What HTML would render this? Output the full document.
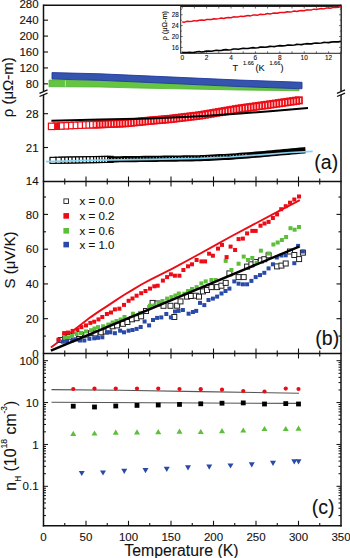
<!DOCTYPE html>
<html><head><meta charset="utf-8"><style>
html,body{margin:0;padding:0;background:#fff;overflow:hidden;width:350px;height:558px;}
svg{display:block;}
text{font-family:"Liberation Sans",sans-serif;fill:#111;stroke:#111;stroke-width:0.1px;}
</style></head><body>
<svg width="350" height="558" viewBox="0 0 350 558" font-family="Liberation Sans, sans-serif">
<rect width="350" height="558" fill="#fff"/>
<polygon points="49.00,80.10 100.00,80.40 140.00,81.50 240.00,83.40 299.00,84.10 299.00,90.70 240.00,90.00 140.00,88.10 100.00,87.00 49.00,86.70" fill="#66c443" stroke="#4fb52f" stroke-width="0.8"/>
<line x1="65.40" y1="80.50" x2="65.40" y2="86.50" stroke="#c8ecc0" stroke-width="0.8" />
<polygon points="52.00,72.60 100.00,73.80 140.00,75.60 240.00,80.10 302.00,82.30 302.00,88.80 240.00,86.60 140.00,82.10 100.00,80.30 52.00,79.10" fill="#3454ae" stroke="#22399c" stroke-width="0.9"/>
<rect x="295.60" y="97.17" width="6.4" height="6.4" fill="#ffd2d2" stroke="#ec0c16" stroke-width="1.7"/>
<rect x="292.75" y="97.58" width="6.4" height="6.4" fill="#ffd2d2" stroke="#ec0c16" stroke-width="1.7"/>
<rect x="289.90" y="97.99" width="6.4" height="6.4" fill="#ffd2d2" stroke="#ec0c16" stroke-width="1.7"/>
<rect x="287.05" y="98.40" width="6.4" height="6.4" fill="#ffd2d2" stroke="#ec0c16" stroke-width="1.7"/>
<rect x="284.20" y="98.81" width="6.4" height="6.4" fill="#ffd2d2" stroke="#ec0c16" stroke-width="1.7"/>
<rect x="281.35" y="99.21" width="6.4" height="6.4" fill="#ffd2d2" stroke="#ec0c16" stroke-width="1.7"/>
<rect x="278.50" y="99.62" width="6.4" height="6.4" fill="#ffd2d2" stroke="#ec0c16" stroke-width="1.7"/>
<rect x="275.65" y="100.03" width="6.4" height="6.4" fill="#ffd2d2" stroke="#ec0c16" stroke-width="1.7"/>
<rect x="272.80" y="100.44" width="6.4" height="6.4" fill="#ffd2d2" stroke="#ec0c16" stroke-width="1.7"/>
<rect x="269.95" y="100.85" width="6.4" height="6.4" fill="#ffd2d2" stroke="#ec0c16" stroke-width="1.7"/>
<rect x="267.10" y="101.26" width="6.4" height="6.4" fill="#ffd2d2" stroke="#ec0c16" stroke-width="1.7"/>
<rect x="264.25" y="101.65" width="6.4" height="6.4" fill="#ffd2d2" stroke="#ec0c16" stroke-width="1.7"/>
<rect x="261.40" y="102.04" width="6.4" height="6.4" fill="#ffd2d2" stroke="#ec0c16" stroke-width="1.7"/>
<rect x="258.55" y="102.43" width="6.4" height="6.4" fill="#ffd2d2" stroke="#ec0c16" stroke-width="1.7"/>
<rect x="255.70" y="102.82" width="6.4" height="6.4" fill="#ffd2d2" stroke="#ec0c16" stroke-width="1.7"/>
<rect x="252.85" y="103.21" width="6.4" height="6.4" fill="#ffd2d2" stroke="#ec0c16" stroke-width="1.7"/>
<rect x="250.00" y="103.60" width="6.4" height="6.4" fill="#ffd2d2" stroke="#ec0c16" stroke-width="1.7"/>
<rect x="247.15" y="103.99" width="6.4" height="6.4" fill="#ffd2d2" stroke="#ec0c16" stroke-width="1.7"/>
<rect x="244.30" y="104.38" width="6.4" height="6.4" fill="#ffd2d2" stroke="#ec0c16" stroke-width="1.7"/>
<rect x="241.45" y="104.76" width="6.4" height="6.4" fill="#ffd2d2" stroke="#ec0c16" stroke-width="1.7"/>
<rect x="238.60" y="105.15" width="6.4" height="6.4" fill="#ffd2d2" stroke="#ec0c16" stroke-width="1.7"/>
<rect x="235.75" y="105.58" width="6.4" height="6.4" fill="#ffd2d2" stroke="#ec0c16" stroke-width="1.7"/>
<rect x="232.90" y="106.06" width="6.4" height="6.4" fill="#ffd2d2" stroke="#ec0c16" stroke-width="1.7"/>
<rect x="230.05" y="106.55" width="6.4" height="6.4" fill="#ffd2d2" stroke="#ec0c16" stroke-width="1.7"/>
<rect x="227.20" y="107.03" width="6.4" height="6.4" fill="#ffd2d2" stroke="#ec0c16" stroke-width="1.7"/>
<rect x="224.35" y="107.52" width="6.4" height="6.4" fill="#ffd2d2" stroke="#ec0c16" stroke-width="1.7"/>
<rect x="221.50" y="108.00" width="6.4" height="6.4" fill="#ffd2d2" stroke="#ec0c16" stroke-width="1.7"/>
<rect x="218.65" y="108.49" width="6.4" height="6.4" fill="#ffd2d2" stroke="#ec0c16" stroke-width="1.7"/>
<rect x="215.80" y="108.97" width="6.4" height="6.4" fill="#ffd2d2" stroke="#ec0c16" stroke-width="1.7"/>
<rect x="212.95" y="109.45" width="6.4" height="6.4" fill="#ffd2d2" stroke="#ec0c16" stroke-width="1.7"/>
<rect x="210.10" y="109.94" width="6.4" height="6.4" fill="#ffd2d2" stroke="#ec0c16" stroke-width="1.7"/>
<rect x="207.25" y="110.42" width="6.4" height="6.4" fill="#ffd2d2" stroke="#ec0c16" stroke-width="1.7"/>
<rect x="204.40" y="110.91" width="6.4" height="6.4" fill="#ffd2d2" stroke="#ec0c16" stroke-width="1.7"/>
<rect x="201.55" y="111.39" width="6.4" height="6.4" fill="#ffd2d2" stroke="#ec0c16" stroke-width="1.7"/>
<rect x="198.70" y="111.88" width="6.4" height="6.4" fill="#ffd2d2" stroke="#ec0c16" stroke-width="1.7"/>
<rect x="195.85" y="112.31" width="6.4" height="6.4" fill="#ffd2d2" stroke="#ec0c16" stroke-width="1.7"/>
<rect x="193.00" y="112.66" width="6.4" height="6.4" fill="#ffd2d2" stroke="#ec0c16" stroke-width="1.7"/>
<rect x="190.15" y="113.00" width="6.4" height="6.4" fill="#ffd2d2" stroke="#ec0c16" stroke-width="1.7"/>
<rect x="187.30" y="113.34" width="6.4" height="6.4" fill="#ffd2d2" stroke="#ec0c16" stroke-width="1.7"/>
<rect x="184.45" y="113.68" width="6.4" height="6.4" fill="#ffd2d2" stroke="#ec0c16" stroke-width="1.7"/>
<rect x="181.60" y="114.02" width="6.4" height="6.4" fill="#ffd2d2" stroke="#ec0c16" stroke-width="1.7"/>
<rect x="178.75" y="114.37" width="6.4" height="6.4" fill="#ffd2d2" stroke="#ec0c16" stroke-width="1.7"/>
<rect x="175.90" y="114.71" width="6.4" height="6.4" fill="#ffd2d2" stroke="#ec0c16" stroke-width="1.7"/>
<rect x="173.05" y="115.05" width="6.4" height="6.4" fill="#ffd2d2" stroke="#ec0c16" stroke-width="1.7"/>
<rect x="170.20" y="115.39" width="6.4" height="6.4" fill="#ffd2d2" stroke="#ec0c16" stroke-width="1.7"/>
<rect x="167.35" y="115.73" width="6.4" height="6.4" fill="#ffd2d2" stroke="#ec0c16" stroke-width="1.7"/>
<rect x="164.50" y="116.00" width="6.4" height="6.4" fill="#ffd2d2" stroke="#ec0c16" stroke-width="1.7"/>
<rect x="161.65" y="116.24" width="6.4" height="6.4" fill="#ffd2d2" stroke="#ec0c16" stroke-width="1.7"/>
<rect x="158.80" y="116.48" width="6.4" height="6.4" fill="#ffd2d2" stroke="#ec0c16" stroke-width="1.7"/>
<rect x="155.95" y="116.72" width="6.4" height="6.4" fill="#ffd2d2" stroke="#ec0c16" stroke-width="1.7"/>
<rect x="153.10" y="116.96" width="6.4" height="6.4" fill="#ffd2d2" stroke="#ec0c16" stroke-width="1.7"/>
<rect x="150.25" y="117.21" width="6.4" height="6.4" fill="#ffd2d2" stroke="#ec0c16" stroke-width="1.7"/>
<rect x="147.40" y="117.45" width="6.4" height="6.4" fill="#ffd2d2" stroke="#ec0c16" stroke-width="1.7"/>
<rect x="144.55" y="117.73" width="6.4" height="6.4" fill="#ffd2d2" stroke="#ec0c16" stroke-width="1.7"/>
<rect x="141.70" y="118.01" width="6.4" height="6.4" fill="#ffd2d2" stroke="#ec0c16" stroke-width="1.7"/>
<rect x="138.85" y="118.30" width="6.4" height="6.4" fill="#ffd2d2" stroke="#ec0c16" stroke-width="1.7"/>
<rect x="136.00" y="118.58" width="6.4" height="6.4" fill="#ffd2d2" stroke="#ec0c16" stroke-width="1.7"/>
<rect x="133.15" y="118.87" width="6.4" height="6.4" fill="#ffd2d2" stroke="#ec0c16" stroke-width="1.7"/>
<rect x="130.30" y="119.15" width="6.4" height="6.4" fill="#ffd2d2" stroke="#ec0c16" stroke-width="1.7"/>
<rect x="127.45" y="119.44" width="6.4" height="6.4" fill="#ffd2d2" stroke="#ec0c16" stroke-width="1.7"/>
<rect x="124.60" y="119.72" width="6.4" height="6.4" fill="#ffd2d2" stroke="#ec0c16" stroke-width="1.7"/>
<rect x="121.75" y="120.00" width="6.4" height="6.4" fill="#ffd2d2" stroke="#ec0c16" stroke-width="1.7"/>
<rect x="118.90" y="120.12" width="6.4" height="6.4" fill="#ffd2d2" stroke="#ec0c16" stroke-width="1.7"/>
<rect x="116.05" y="120.24" width="6.4" height="6.4" fill="#ffd2d2" stroke="#ec0c16" stroke-width="1.7"/>
<rect x="113.20" y="120.37" width="6.4" height="6.4" fill="#ffd2d2" stroke="#ec0c16" stroke-width="1.7"/>
<rect x="110.35" y="120.49" width="6.4" height="6.4" fill="#ffd2d2" stroke="#ec0c16" stroke-width="1.7"/>
<rect x="107.50" y="120.61" width="6.4" height="6.4" fill="#ffd2d2" stroke="#ec0c16" stroke-width="1.7"/>
<rect x="104.65" y="120.73" width="6.4" height="6.4" fill="#ffd2d2" stroke="#ec0c16" stroke-width="1.7"/>
<rect x="101.80" y="120.85" width="6.4" height="6.4" fill="#ffd2d2" stroke="#ec0c16" stroke-width="1.7"/>
<rect x="98.95" y="120.97" width="6.4" height="6.4" fill="#ffd2d2" stroke="#ec0c16" stroke-width="1.7"/>
<rect x="96.10" y="121.09" width="6.4" height="6.4" fill="#ffd2d2" stroke="#ec0c16" stroke-width="1.7"/>
<rect x="93.25" y="121.21" width="6.4" height="6.4" fill="#ffd2d2" stroke="#ec0c16" stroke-width="1.7"/>
<rect x="90.40" y="121.33" width="6.4" height="6.4" fill="#ffd2d2" stroke="#ec0c16" stroke-width="1.7"/>
<rect x="86.80" y="121.49" width="6.4" height="6.4" fill="#fff" stroke="#ec0c16" stroke-width="1.2"/>
<rect x="83.20" y="121.64" width="6.4" height="6.4" fill="#fff" stroke="#ec0c16" stroke-width="1.2"/>
<rect x="79.60" y="121.80" width="6.4" height="6.4" fill="#fff" stroke="#ec0c16" stroke-width="1.2"/>
<rect x="76.00" y="121.96" width="6.4" height="6.4" fill="#fff" stroke="#ec0c16" stroke-width="1.2"/>
<rect x="71.40" y="122.16" width="6.4" height="6.4" fill="#fff" stroke="#ec0c16" stroke-width="1.2"/>
<rect x="66.80" y="122.36" width="6.4" height="6.4" fill="#fff" stroke="#ec0c16" stroke-width="1.2"/>
<rect x="62.20" y="122.56" width="6.4" height="6.4" fill="#fff" stroke="#ec0c16" stroke-width="1.2"/>
<rect x="57.60" y="122.77" width="6.4" height="6.4" fill="#fff" stroke="#ec0c16" stroke-width="1.2"/>
<rect x="53.00" y="122.97" width="6.4" height="6.4" fill="#fff" stroke="#ec0c16" stroke-width="1.2"/>
<rect x="48.40" y="123.17" width="6.4" height="6.4" fill="#fff" stroke="#ec0c16" stroke-width="1.2"/>
<rect x="54.4" y="122.78" width="4.6" height="6.8" fill="#ec0c16"/>
<polyline points="51.40,120.80 100.00,119.60 150.00,118.40 200.00,116.20 240.00,113.60 270.00,111.20 308.00,108.00" fill="none" stroke="#000" stroke-width="2.0" stroke-linejoin="round" />
<rect x="107.20" y="156.38" width="6.0" height="6.0" fill="#fff" stroke="#000" stroke-width="1.15"/>
<rect x="104.40" y="156.41" width="6.0" height="6.0" fill="#fff" stroke="#000" stroke-width="1.15"/>
<rect x="101.60" y="156.44" width="6.0" height="6.0" fill="#fff" stroke="#000" stroke-width="1.15"/>
<rect x="98.80" y="156.48" width="6.0" height="6.0" fill="#fff" stroke="#000" stroke-width="1.15"/>
<rect x="96.00" y="156.52" width="6.0" height="6.0" fill="#fff" stroke="#000" stroke-width="1.15"/>
<rect x="93.20" y="156.57" width="6.0" height="6.0" fill="#fff" stroke="#000" stroke-width="1.15"/>
<rect x="90.40" y="156.62" width="6.0" height="6.0" fill="#fff" stroke="#000" stroke-width="1.15"/>
<rect x="87.60" y="156.67" width="6.0" height="6.0" fill="#fff" stroke="#000" stroke-width="1.15"/>
<rect x="84.00" y="156.73" width="6.0" height="6.0" fill="#fff" stroke="#000" stroke-width="1.15"/>
<rect x="80.40" y="156.80" width="6.0" height="6.0" fill="#fff" stroke="#000" stroke-width="1.15"/>
<rect x="76.80" y="156.86" width="6.0" height="6.0" fill="#fff" stroke="#000" stroke-width="1.15"/>
<rect x="73.20" y="156.93" width="6.0" height="6.0" fill="#fff" stroke="#000" stroke-width="1.15"/>
<rect x="69.60" y="156.99" width="6.0" height="6.0" fill="#fff" stroke="#000" stroke-width="1.15"/>
<rect x="66.00" y="157.06" width="6.0" height="6.0" fill="#fff" stroke="#000" stroke-width="1.15"/>
<rect x="62.40" y="157.12" width="6.0" height="6.0" fill="#fff" stroke="#000" stroke-width="1.15"/>
<rect x="58.80" y="157.19" width="6.0" height="6.0" fill="#fff" stroke="#000" stroke-width="1.15"/>
<rect x="55.20" y="157.25" width="6.0" height="6.0" fill="#fff" stroke="#000" stroke-width="1.15"/>
<rect x="50.00" y="157.35" width="6.0" height="6.0" fill="#fff" stroke="#000" stroke-width="1.15"/>
<polyline points="108.00,159.40 112.00,159.36 116.00,159.31 120.00,159.26 124.00,159.21 128.00,159.16 132.00,159.12 136.00,159.07 140.00,159.02 144.00,158.97 148.00,158.92 152.00,158.87 156.00,158.82 160.00,158.76 164.00,158.70 168.00,158.65 172.00,158.59 176.00,158.54 180.00,158.48 184.00,158.42 188.00,158.37 192.00,158.31 196.00,158.26 200.00,158.20 204.00,158.00 208.00,157.80 212.00,157.60 216.00,157.40 220.00,157.20 224.00,157.00 228.00,156.80 232.00,156.55 236.00,156.24 240.00,155.93 244.00,155.63 248.00,155.32 252.00,155.01 256.00,154.71 260.00,154.40 264.00,154.03 268.00,153.65 272.00,153.28 276.00,152.91 280.00,152.53 284.00,152.16 288.00,151.79 292.00,151.42 296.00,151.06 300.00,150.70 304.00,150.34 305.50,150.20" fill="none" stroke="#000" stroke-width="6.2" stroke-linejoin="round" stroke-linecap="butt"/>
<polyline points="108.00,158.76 112.00,158.68 116.00,158.61 120.00,158.54 124.00,158.47 128.00,158.40 132.00,158.32 136.00,158.25 140.00,158.18 144.00,158.11 148.00,158.04 152.00,157.96 156.00,157.89 160.00,157.82 164.00,157.75 168.00,157.68 172.00,157.60 176.00,157.53 180.00,157.46 184.00,157.39 188.00,157.32 192.00,157.24 196.00,157.17 200.00,157.10 204.00,156.91 208.00,156.73 212.00,156.54 216.00,156.35 220.00,156.17 224.00,155.98 228.00,155.79 232.00,155.55 236.00,155.26 240.00,154.97 244.00,154.67 248.00,154.38" fill="none" stroke="#fff" stroke-width="0.8" stroke-linejoin="round" stroke-dasharray="1 2.2"/>
<polyline points="46.00,161.60 100.00,160.20 150.00,159.30 200.00,158.40 230.00,157.00 260.00,154.80 290.00,152.50 312.70,151.40" fill="none" stroke="#88d4ee" stroke-width="1.7" stroke-linejoin="round" />
<polyline points="50.90,347.40 62.30,338.90 76.60,327.90 90.00,317.60 98.60,311.60 107.10,306.10 115.70,300.40 124.30,294.80 132.90,289.60 141.40,284.50 150.00,279.90 172.90,268.40 195.70,256.00 218.60,243.40 230.00,237.00 250.00,226.30 275.00,213.20 299.80,200.10" fill="none" stroke="#ec0c16" stroke-width="1.9" stroke-linejoin="round" />
<rect x="58.50" y="337.50" width="5.0" height="5.0" fill="#fff" stroke="#222" stroke-width="1.0"/>
<rect x="62.50" y="336.00" width="5.0" height="5.0" fill="#fff" stroke="#222" stroke-width="1.0"/>
<rect x="66.60" y="334.40" width="5.0" height="5.0" fill="#fff" stroke="#222" stroke-width="1.0"/>
<rect x="71.50" y="333.20" width="5.0" height="5.0" fill="#fff" stroke="#222" stroke-width="1.0"/>
<rect x="77.50" y="331.50" width="5.0" height="5.0" fill="#fff" stroke="#222" stroke-width="1.0"/>
<rect x="83.80" y="332.10" width="5.0" height="5.0" fill="#fff" stroke="#222" stroke-width="1.0"/>
<rect x="88.60" y="330.60" width="5.0" height="5.0" fill="#fff" stroke="#222" stroke-width="1.0"/>
<rect x="92.90" y="330.90" width="5.0" height="5.0" fill="#fff" stroke="#222" stroke-width="1.0"/>
<rect x="98.70" y="329.80" width="5.0" height="5.0" fill="#fff" stroke="#222" stroke-width="1.0"/>
<rect x="103.20" y="329.00" width="5.0" height="5.0" fill="#fff" stroke="#222" stroke-width="1.0"/>
<rect x="106.00" y="326.30" width="5.0" height="5.0" fill="#fff" stroke="#222" stroke-width="1.0"/>
<rect x="110.10" y="323.80" width="5.0" height="5.0" fill="#fff" stroke="#222" stroke-width="1.0"/>
<rect x="114.60" y="322.90" width="5.0" height="5.0" fill="#fff" stroke="#222" stroke-width="1.0"/>
<rect x="120.40" y="321.30" width="5.0" height="5.0" fill="#fff" stroke="#222" stroke-width="1.0"/>
<rect x="124.90" y="319.50" width="5.0" height="5.0" fill="#fff" stroke="#222" stroke-width="1.0"/>
<rect x="129.50" y="316.80" width="5.0" height="5.0" fill="#fff" stroke="#222" stroke-width="1.0"/>
<rect x="134.10" y="315.70" width="5.0" height="5.0" fill="#fff" stroke="#222" stroke-width="1.0"/>
<rect x="138.60" y="313.80" width="5.0" height="5.0" fill="#fff" stroke="#222" stroke-width="1.0"/>
<rect x="143.50" y="308.50" width="5.0" height="5.0" fill="#fff" stroke="#222" stroke-width="1.0"/>
<rect x="150.10" y="300.40" width="5.0" height="5.0" fill="#fff" stroke="#222" stroke-width="1.0"/>
<rect x="155.00" y="301.00" width="5.0" height="5.0" fill="#fff" stroke="#222" stroke-width="1.0"/>
<rect x="161.00" y="303.30" width="5.0" height="5.0" fill="#fff" stroke="#222" stroke-width="1.0"/>
<rect x="168.00" y="303.30" width="5.0" height="5.0" fill="#fff" stroke="#222" stroke-width="1.0"/>
<rect x="171.80" y="314.50" width="5.0" height="5.0" fill="#fff" stroke="#222" stroke-width="1.0"/>
<rect x="174.60" y="303.20" width="5.0" height="5.0" fill="#fff" stroke="#222" stroke-width="1.0"/>
<rect x="178.00" y="298.90" width="5.0" height="5.0" fill="#fff" stroke="#222" stroke-width="1.0"/>
<rect x="184.60" y="294.10" width="5.0" height="5.0" fill="#fff" stroke="#222" stroke-width="1.0"/>
<rect x="188.50" y="293.50" width="5.0" height="5.0" fill="#fff" stroke="#222" stroke-width="1.0"/>
<rect x="193.20" y="293.20" width="5.0" height="5.0" fill="#fff" stroke="#222" stroke-width="1.0"/>
<rect x="196.50" y="294.10" width="5.0" height="5.0" fill="#fff" stroke="#222" stroke-width="1.0"/>
<rect x="200.40" y="288.90" width="5.0" height="5.0" fill="#fff" stroke="#222" stroke-width="1.0"/>
<rect x="204.50" y="287.50" width="5.0" height="5.0" fill="#fff" stroke="#222" stroke-width="1.0"/>
<rect x="208.90" y="284.60" width="5.0" height="5.0" fill="#fff" stroke="#222" stroke-width="1.0"/>
<rect x="214.60" y="284.60" width="5.0" height="5.0" fill="#fff" stroke="#222" stroke-width="1.0"/>
<rect x="218.90" y="283.20" width="5.0" height="5.0" fill="#fff" stroke="#222" stroke-width="1.0"/>
<rect x="223.20" y="280.40" width="5.0" height="5.0" fill="#fff" stroke="#222" stroke-width="1.0"/>
<rect x="226.90" y="270.90" width="5.0" height="5.0" fill="#fff" stroke="#222" stroke-width="1.0"/>
<rect x="236.10" y="274.60" width="5.0" height="5.0" fill="#fff" stroke="#222" stroke-width="1.0"/>
<rect x="241.20" y="274.60" width="5.0" height="5.0" fill="#fff" stroke="#222" stroke-width="1.0"/>
<rect x="244.60" y="264.10" width="5.0" height="5.0" fill="#fff" stroke="#222" stroke-width="1.0"/>
<rect x="248.90" y="261.80" width="5.0" height="5.0" fill="#fff" stroke="#222" stroke-width="1.0"/>
<rect x="253.00" y="259.50" width="5.0" height="5.0" fill="#fff" stroke="#222" stroke-width="1.0"/>
<rect x="258.40" y="257.90" width="5.0" height="5.0" fill="#fff" stroke="#222" stroke-width="1.0"/>
<rect x="261.80" y="256.70" width="5.0" height="5.0" fill="#fff" stroke="#222" stroke-width="1.0"/>
<rect x="266.10" y="252.80" width="5.0" height="5.0" fill="#fff" stroke="#222" stroke-width="1.0"/>
<rect x="274.60" y="263.90" width="5.0" height="5.0" fill="#fff" stroke="#222" stroke-width="1.0"/>
<rect x="278.90" y="263.10" width="5.0" height="5.0" fill="#fff" stroke="#222" stroke-width="1.0"/>
<rect x="283.20" y="261.00" width="5.0" height="5.0" fill="#fff" stroke="#222" stroke-width="1.0"/>
<rect x="287.50" y="249.00" width="5.0" height="5.0" fill="#fff" stroke="#222" stroke-width="1.0"/>
<rect x="291.80" y="252.50" width="5.0" height="5.0" fill="#fff" stroke="#222" stroke-width="1.0"/>
<rect x="296.60" y="256.60" width="5.0" height="5.0" fill="#fff" stroke="#222" stroke-width="1.0"/>
<rect x="300.40" y="250.20" width="5.0" height="5.0" fill="#fff" stroke="#222" stroke-width="1.0"/>
<rect x="62.60" y="336.30" width="4.0" height="4.0" fill="#5cbf3a"/>
<rect x="66.00" y="335.40" width="4.0" height="4.0" fill="#5cbf3a"/>
<rect x="70.00" y="334.00" width="4.0" height="4.0" fill="#5cbf3a"/>
<rect x="74.60" y="332.00" width="4.0" height="4.0" fill="#5cbf3a"/>
<rect x="79.00" y="331.00" width="4.0" height="4.0" fill="#5cbf3a"/>
<rect x="84.00" y="329.40" width="4.0" height="4.0" fill="#5cbf3a"/>
<rect x="89.10" y="328.20" width="4.0" height="4.0" fill="#5cbf3a"/>
<rect x="92.50" y="326.50" width="4.0" height="4.0" fill="#5cbf3a"/>
<rect x="96.00" y="325.10" width="4.0" height="4.0" fill="#5cbf3a"/>
<rect x="101.10" y="324.30" width="4.0" height="4.0" fill="#5cbf3a"/>
<rect x="106.30" y="322.60" width="4.0" height="4.0" fill="#5cbf3a"/>
<rect x="110.60" y="320.50" width="4.0" height="4.0" fill="#5cbf3a"/>
<rect x="114.50" y="319.00" width="4.0" height="4.0" fill="#5cbf3a"/>
<rect x="118.60" y="317.50" width="4.0" height="4.0" fill="#5cbf3a"/>
<rect x="122.50" y="315.00" width="4.0" height="4.0" fill="#5cbf3a"/>
<rect x="130.90" y="311.70" width="4.0" height="4.0" fill="#5cbf3a"/>
<rect x="138.00" y="310.90" width="4.0" height="4.0" fill="#5cbf3a"/>
<rect x="147.10" y="305.10" width="4.0" height="4.0" fill="#5cbf3a"/>
<rect x="148.00" y="303.70" width="4.0" height="4.0" fill="#5cbf3a"/>
<rect x="152.30" y="303.50" width="4.0" height="4.0" fill="#5cbf3a"/>
<rect x="156.50" y="301.00" width="4.0" height="4.0" fill="#5cbf3a"/>
<rect x="160.50" y="299.00" width="4.0" height="4.0" fill="#5cbf3a"/>
<rect x="165.10" y="296.60" width="4.0" height="4.0" fill="#5cbf3a"/>
<rect x="169.40" y="295.10" width="4.0" height="4.0" fill="#5cbf3a"/>
<rect x="173.40" y="293.50" width="4.0" height="4.0" fill="#5cbf3a"/>
<rect x="176.80" y="291.50" width="4.0" height="4.0" fill="#5cbf3a"/>
<rect x="182.30" y="291.70" width="4.0" height="4.0" fill="#5cbf3a"/>
<rect x="186.00" y="289.00" width="4.0" height="4.0" fill="#5cbf3a"/>
<rect x="190.00" y="287.00" width="4.0" height="4.0" fill="#5cbf3a"/>
<rect x="194.60" y="285.10" width="4.0" height="4.0" fill="#5cbf3a"/>
<rect x="199.40" y="281.40" width="4.0" height="4.0" fill="#5cbf3a"/>
<rect x="203.70" y="279.40" width="4.0" height="4.0" fill="#5cbf3a"/>
<rect x="209.40" y="278.00" width="4.0" height="4.0" fill="#5cbf3a"/>
<rect x="213.70" y="278.00" width="4.0" height="4.0" fill="#5cbf3a"/>
<rect x="223.70" y="258.90" width="4.0" height="4.0" fill="#5cbf3a"/>
<rect x="229.40" y="268.00" width="4.0" height="4.0" fill="#5cbf3a"/>
<rect x="236.60" y="261.70" width="4.0" height="4.0" fill="#5cbf3a"/>
<rect x="241.70" y="254.60" width="4.0" height="4.0" fill="#5cbf3a"/>
<rect x="246.00" y="258.00" width="4.0" height="4.0" fill="#5cbf3a"/>
<rect x="250.30" y="256.00" width="4.0" height="4.0" fill="#5cbf3a"/>
<rect x="254.60" y="260.90" width="4.0" height="4.0" fill="#5cbf3a"/>
<rect x="258.90" y="248.70" width="4.0" height="4.0" fill="#5cbf3a"/>
<rect x="266.60" y="251.50" width="4.0" height="4.0" fill="#5cbf3a"/>
<rect x="271.40" y="242.50" width="4.0" height="4.0" fill="#5cbf3a"/>
<rect x="275.70" y="240.50" width="4.0" height="4.0" fill="#5cbf3a"/>
<rect x="279.90" y="238.00" width="4.0" height="4.0" fill="#5cbf3a"/>
<rect x="284.10" y="235.00" width="4.0" height="4.0" fill="#5cbf3a"/>
<rect x="288.50" y="226.20" width="4.0" height="4.0" fill="#5cbf3a"/>
<rect x="292.60" y="227.70" width="4.0" height="4.0" fill="#5cbf3a"/>
<rect x="297.00" y="225.00" width="4.0" height="4.0" fill="#5cbf3a"/>
<rect x="56.60" y="338.50" width="4.0" height="4.0" fill="#2a4aa8"/>
<rect x="60.90" y="339.70" width="4.0" height="4.0" fill="#2a4aa8"/>
<rect x="65.10" y="339.20" width="4.0" height="4.0" fill="#2a4aa8"/>
<rect x="70.30" y="338.50" width="4.0" height="4.0" fill="#2a4aa8"/>
<rect x="74.00" y="337.50" width="4.0" height="4.0" fill="#2a4aa8"/>
<rect x="78.00" y="338.50" width="4.0" height="4.0" fill="#2a4aa8"/>
<rect x="82.30" y="338.50" width="4.0" height="4.0" fill="#2a4aa8"/>
<rect x="87.40" y="336.80" width="4.0" height="4.0" fill="#2a4aa8"/>
<rect x="92.20" y="336.30" width="4.0" height="4.0" fill="#2a4aa8"/>
<rect x="96.00" y="335.80" width="4.0" height="4.0" fill="#2a4aa8"/>
<rect x="100.30" y="335.30" width="4.0" height="4.0" fill="#2a4aa8"/>
<rect x="104.90" y="330.30" width="4.0" height="4.0" fill="#2a4aa8"/>
<rect x="108.30" y="330.30" width="4.0" height="4.0" fill="#2a4aa8"/>
<rect x="112.90" y="331.20" width="4.0" height="4.0" fill="#2a4aa8"/>
<rect x="118.10" y="328.70" width="4.0" height="4.0" fill="#2a4aa8"/>
<rect x="122.00" y="330.30" width="4.0" height="4.0" fill="#2a4aa8"/>
<rect x="126.60" y="328.70" width="4.0" height="4.0" fill="#2a4aa8"/>
<rect x="130.50" y="328.00" width="4.0" height="4.0" fill="#2a4aa8"/>
<rect x="134.60" y="326.90" width="4.0" height="4.0" fill="#2a4aa8"/>
<rect x="138.70" y="325.00" width="4.0" height="4.0" fill="#2a4aa8"/>
<rect x="142.60" y="319.50" width="4.0" height="4.0" fill="#2a4aa8"/>
<rect x="147.10" y="323.40" width="4.0" height="4.0" fill="#2a4aa8"/>
<rect x="151.00" y="318.00" width="4.0" height="4.0" fill="#2a4aa8"/>
<rect x="155.10" y="315.90" width="4.0" height="4.0" fill="#2a4aa8"/>
<rect x="159.30" y="315.40" width="4.0" height="4.0" fill="#2a4aa8"/>
<rect x="164.30" y="312.00" width="4.0" height="4.0" fill="#2a4aa8"/>
<rect x="168.90" y="315.40" width="4.0" height="4.0" fill="#2a4aa8"/>
<rect x="173.00" y="309.50" width="4.0" height="4.0" fill="#2a4aa8"/>
<rect x="176.60" y="308.90" width="4.0" height="4.0" fill="#2a4aa8"/>
<rect x="180.90" y="308.00" width="4.0" height="4.0" fill="#2a4aa8"/>
<rect x="186.60" y="311.70" width="4.0" height="4.0" fill="#2a4aa8"/>
<rect x="190.90" y="310.00" width="4.0" height="4.0" fill="#2a4aa8"/>
<rect x="194.20" y="308.90" width="4.0" height="4.0" fill="#2a4aa8"/>
<rect x="198.00" y="300.90" width="4.0" height="4.0" fill="#2a4aa8"/>
<rect x="202.30" y="303.10" width="4.0" height="4.0" fill="#2a4aa8"/>
<rect x="206.50" y="298.00" width="4.0" height="4.0" fill="#2a4aa8"/>
<rect x="210.90" y="296.60" width="4.0" height="4.0" fill="#2a4aa8"/>
<rect x="215.10" y="294.60" width="4.0" height="4.0" fill="#2a4aa8"/>
<rect x="219.50" y="291.50" width="4.0" height="4.0" fill="#2a4aa8"/>
<rect x="223.50" y="289.00" width="4.0" height="4.0" fill="#2a4aa8"/>
<rect x="227.40" y="286.60" width="4.0" height="4.0" fill="#2a4aa8"/>
<rect x="232.30" y="279.40" width="4.0" height="4.0" fill="#2a4aa8"/>
<rect x="236.60" y="281.70" width="4.0" height="4.0" fill="#2a4aa8"/>
<rect x="240.90" y="282.30" width="4.0" height="4.0" fill="#2a4aa8"/>
<rect x="245.10" y="282.30" width="4.0" height="4.0" fill="#2a4aa8"/>
<rect x="249.40" y="278.90" width="4.0" height="4.0" fill="#2a4aa8"/>
<rect x="253.70" y="275.10" width="4.0" height="4.0" fill="#2a4aa8"/>
<rect x="258.00" y="273.10" width="4.0" height="4.0" fill="#2a4aa8"/>
<rect x="262.30" y="270.80" width="4.0" height="4.0" fill="#2a4aa8"/>
<rect x="266.60" y="266.40" width="4.0" height="4.0" fill="#2a4aa8"/>
<rect x="270.90" y="262.30" width="4.0" height="4.0" fill="#2a4aa8"/>
<rect x="274.80" y="255.50" width="4.0" height="4.0" fill="#2a4aa8"/>
<rect x="279.40" y="253.50" width="4.0" height="4.0" fill="#2a4aa8"/>
<rect x="283.70" y="253.30" width="4.0" height="4.0" fill="#2a4aa8"/>
<rect x="292.30" y="261.20" width="4.0" height="4.0" fill="#2a4aa8"/>
<rect x="296.10" y="243.90" width="4.0" height="4.0" fill="#2a4aa8"/>
<rect x="300.90" y="249.50" width="4.0" height="4.0" fill="#2a4aa8"/>
<rect x="56.60" y="337.50" width="4.0" height="4.0" fill="#ec0c16"/>
<rect x="62.10" y="331.10" width="4.0" height="4.0" fill="#ec0c16"/>
<rect x="66.00" y="330.60" width="4.0" height="4.0" fill="#ec0c16"/>
<rect x="70.60" y="328.90" width="4.0" height="4.0" fill="#ec0c16"/>
<rect x="75.40" y="327.70" width="4.0" height="4.0" fill="#ec0c16"/>
<rect x="79.40" y="325.10" width="4.0" height="4.0" fill="#ec0c16"/>
<rect x="84.00" y="323.40" width="4.0" height="4.0" fill="#ec0c16"/>
<rect x="88.30" y="320.90" width="4.0" height="4.0" fill="#ec0c16"/>
<rect x="92.20" y="319.70" width="4.0" height="4.0" fill="#ec0c16"/>
<rect x="96.50" y="317.40" width="4.0" height="4.0" fill="#ec0c16"/>
<rect x="100.30" y="315.00" width="4.0" height="4.0" fill="#ec0c16"/>
<rect x="104.90" y="312.00" width="4.0" height="4.0" fill="#ec0c16"/>
<rect x="109.00" y="310.50" width="4.0" height="4.0" fill="#ec0c16"/>
<rect x="112.90" y="307.40" width="4.0" height="4.0" fill="#ec0c16"/>
<rect x="117.40" y="306.70" width="4.0" height="4.0" fill="#ec0c16"/>
<rect x="122.00" y="302.90" width="4.0" height="4.0" fill="#ec0c16"/>
<rect x="126.60" y="298.80" width="4.0" height="4.0" fill="#ec0c16"/>
<rect x="130.50" y="296.50" width="4.0" height="4.0" fill="#ec0c16"/>
<rect x="134.60" y="293.70" width="4.0" height="4.0" fill="#ec0c16"/>
<rect x="139.20" y="291.20" width="4.0" height="4.0" fill="#ec0c16"/>
<rect x="143.50" y="289.00" width="4.0" height="4.0" fill="#ec0c16"/>
<rect x="148.00" y="286.60" width="4.0" height="4.0" fill="#ec0c16"/>
<rect x="152.30" y="284.30" width="4.0" height="4.0" fill="#ec0c16"/>
<rect x="155.70" y="283.70" width="4.0" height="4.0" fill="#ec0c16"/>
<rect x="160.90" y="278.60" width="4.0" height="4.0" fill="#ec0c16"/>
<rect x="165.10" y="275.10" width="4.0" height="4.0" fill="#ec0c16"/>
<rect x="168.90" y="272.30" width="4.0" height="4.0" fill="#ec0c16"/>
<rect x="172.90" y="273.70" width="4.0" height="4.0" fill="#ec0c16"/>
<rect x="177.40" y="273.70" width="4.0" height="4.0" fill="#ec0c16"/>
<rect x="181.40" y="268.00" width="4.0" height="4.0" fill="#ec0c16"/>
<rect x="186.00" y="264.30" width="4.0" height="4.0" fill="#ec0c16"/>
<rect x="190.00" y="262.30" width="4.0" height="4.0" fill="#ec0c16"/>
<rect x="194.60" y="258.00" width="4.0" height="4.0" fill="#ec0c16"/>
<rect x="199.40" y="259.40" width="4.0" height="4.0" fill="#ec0c16"/>
<rect x="203.10" y="259.40" width="4.0" height="4.0" fill="#ec0c16"/>
<rect x="207.10" y="251.70" width="4.0" height="4.0" fill="#ec0c16"/>
<rect x="210.90" y="253.70" width="4.0" height="4.0" fill="#ec0c16"/>
<rect x="216.00" y="246.60" width="4.0" height="4.0" fill="#ec0c16"/>
<rect x="220.00" y="242.90" width="4.0" height="4.0" fill="#ec0c16"/>
<rect x="224.60" y="255.10" width="4.0" height="4.0" fill="#ec0c16"/>
<rect x="228.60" y="244.60" width="4.0" height="4.0" fill="#ec0c16"/>
<rect x="233.10" y="248.00" width="4.0" height="4.0" fill="#ec0c16"/>
<rect x="236.60" y="237.10" width="4.0" height="4.0" fill="#ec0c16"/>
<rect x="240.90" y="236.60" width="4.0" height="4.0" fill="#ec0c16"/>
<rect x="245.10" y="231.40" width="4.0" height="4.0" fill="#ec0c16"/>
<rect x="250.30" y="228.90" width="4.0" height="4.0" fill="#ec0c16"/>
<rect x="253.70" y="228.90" width="4.0" height="4.0" fill="#ec0c16"/>
<rect x="258.50" y="223.70" width="4.0" height="4.0" fill="#ec0c16"/>
<rect x="262.50" y="221.50" width="4.0" height="4.0" fill="#ec0c16"/>
<rect x="266.60" y="219.90" width="4.0" height="4.0" fill="#ec0c16"/>
<rect x="270.90" y="216.00" width="4.0" height="4.0" fill="#ec0c16"/>
<rect x="275.10" y="212.40" width="4.0" height="4.0" fill="#ec0c16"/>
<rect x="279.20" y="207.20" width="4.0" height="4.0" fill="#ec0c16"/>
<rect x="283.70" y="204.20" width="4.0" height="4.0" fill="#ec0c16"/>
<rect x="288.00" y="200.70" width="4.0" height="4.0" fill="#ec0c16"/>
<rect x="292.30" y="197.50" width="4.0" height="4.0" fill="#ec0c16"/>
<rect x="297.00" y="194.50" width="4.0" height="4.0" fill="#ec0c16"/>
<polyline points="50.90,350.60 299.10,246.60" fill="none" stroke="#000" stroke-width="2.4" stroke-linejoin="round" />
<polyline points="51.50,389.60 120.00,390.30 200.00,391.60 299.00,393.20" fill="none" stroke="#555" stroke-width="1.1" stroke-linejoin="round" />
<polyline points="51.50,402.30 150.00,402.80 299.00,403.40" fill="none" stroke="#555" stroke-width="1.1" stroke-linejoin="round" />
<circle cx="73.25" cy="389.00" r="2.1" fill="#ec0c16"/>
<circle cx="94.50" cy="388.60" r="2.1" fill="#ec0c16"/>
<circle cx="115.75" cy="388.60" r="2.1" fill="#ec0c16"/>
<circle cx="137.00" cy="388.60" r="2.1" fill="#ec0c16"/>
<circle cx="158.25" cy="388.60" r="2.1" fill="#ec0c16"/>
<circle cx="179.50" cy="389.00" r="2.1" fill="#ec0c16"/>
<circle cx="200.75" cy="389.20" r="2.1" fill="#ec0c16"/>
<circle cx="222.00" cy="389.70" r="2.1" fill="#ec0c16"/>
<circle cx="243.25" cy="391.00" r="2.1" fill="#ec0c16"/>
<circle cx="264.50" cy="391.50" r="2.1" fill="#ec0c16"/>
<circle cx="285.75" cy="388.60" r="2.1" fill="#ec0c16"/>
<circle cx="298.50" cy="389.00" r="2.1" fill="#ec0c16"/>
<rect x="70.85" y="403.80" width="4.8" height="4.8" fill="#000"/>
<rect x="92.10" y="404.60" width="4.8" height="4.8" fill="#000"/>
<rect x="113.35" y="403.60" width="4.8" height="4.8" fill="#000"/>
<rect x="134.60" y="403.00" width="4.8" height="4.8" fill="#000"/>
<rect x="155.85" y="402.60" width="4.8" height="4.8" fill="#000"/>
<rect x="177.10" y="402.00" width="4.8" height="4.8" fill="#000"/>
<rect x="198.35" y="401.40" width="4.8" height="4.8" fill="#000"/>
<rect x="219.60" y="400.80" width="4.8" height="4.8" fill="#000"/>
<rect x="240.85" y="400.50" width="4.8" height="4.8" fill="#000"/>
<rect x="262.10" y="401.60" width="4.8" height="4.8" fill="#000"/>
<rect x="283.35" y="401.20" width="4.8" height="4.8" fill="#000"/>
<rect x="296.10" y="401.60" width="4.8" height="4.8" fill="#000"/>
<polygon points="70.25,435.90 76.25,435.90 73.25,430.70" fill="#5cbf3a"/>
<polygon points="91.50,435.60 97.50,435.60 94.50,430.40" fill="#5cbf3a"/>
<polygon points="112.75,434.80 118.75,434.80 115.75,429.60" fill="#5cbf3a"/>
<polygon points="134.00,434.50 140.00,434.50 137.00,429.30" fill="#5cbf3a"/>
<polygon points="155.25,434.20 161.25,434.20 158.25,429.00" fill="#5cbf3a"/>
<polygon points="176.50,433.80 182.50,433.80 179.50,428.60" fill="#5cbf3a"/>
<polygon points="197.75,434.10 203.75,434.10 200.75,428.90" fill="#5cbf3a"/>
<polygon points="219.00,433.30 225.00,433.30 222.00,428.10" fill="#5cbf3a"/>
<polygon points="240.25,432.60 246.25,432.60 243.25,427.40" fill="#5cbf3a"/>
<polygon points="261.50,431.10 267.50,431.10 264.50,425.90" fill="#5cbf3a"/>
<polygon points="282.75,431.10 288.75,431.10 285.75,425.90" fill="#5cbf3a"/>
<polygon points="295.50,430.70 301.50,430.70 298.50,425.50" fill="#5cbf3a"/>
<polygon points="78.75,470.90 84.75,470.90 81.75,476.10" fill="#2a4aa8"/>
<polygon points="100.00,470.40 106.00,470.40 103.00,475.60" fill="#2a4aa8"/>
<polygon points="121.25,468.80 127.25,468.80 124.25,474.00" fill="#2a4aa8"/>
<polygon points="142.50,468.10 148.50,468.10 145.50,473.30" fill="#2a4aa8"/>
<polygon points="163.75,466.80 169.75,466.80 166.75,472.00" fill="#2a4aa8"/>
<polygon points="185.00,465.30 191.00,465.30 188.00,470.50" fill="#2a4aa8"/>
<polygon points="206.25,464.50 212.25,464.50 209.25,469.70" fill="#2a4aa8"/>
<polygon points="227.50,463.40 233.50,463.40 230.50,468.60" fill="#2a4aa8"/>
<polygon points="248.75,462.30 254.75,462.30 251.75,467.50" fill="#2a4aa8"/>
<polygon points="270.00,460.80 276.00,460.80 273.00,466.00" fill="#2a4aa8"/>
<polygon points="291.25,459.30 297.25,459.30 294.25,464.50" fill="#2a4aa8"/>
<polygon points="295.50,459.30 301.50,459.30 298.50,464.50" fill="#2a4aa8"/>
<line x1="64.75" y1="178.60" x2="64.75" y2="184.40" stroke="#111" stroke-width="1.1" />
<line x1="64.75" y1="350.60" x2="64.75" y2="356.40" stroke="#111" stroke-width="1.1" />
<line x1="64.75" y1="522.90" x2="64.75" y2="525.80" stroke="#111" stroke-width="1.1" />
<line x1="86.00" y1="176.50" x2="86.00" y2="186.50" stroke="#111" stroke-width="1.1" />
<line x1="86.00" y1="348.50" x2="86.00" y2="358.50" stroke="#111" stroke-width="1.1" />
<line x1="86.00" y1="520.80" x2="86.00" y2="525.80" stroke="#111" stroke-width="1.1" />
<line x1="107.25" y1="178.60" x2="107.25" y2="184.40" stroke="#111" stroke-width="1.1" />
<line x1="107.25" y1="350.60" x2="107.25" y2="356.40" stroke="#111" stroke-width="1.1" />
<line x1="107.25" y1="522.90" x2="107.25" y2="525.80" stroke="#111" stroke-width="1.1" />
<line x1="128.50" y1="176.50" x2="128.50" y2="186.50" stroke="#111" stroke-width="1.1" />
<line x1="128.50" y1="348.50" x2="128.50" y2="358.50" stroke="#111" stroke-width="1.1" />
<line x1="128.50" y1="520.80" x2="128.50" y2="525.80" stroke="#111" stroke-width="1.1" />
<line x1="149.75" y1="178.60" x2="149.75" y2="184.40" stroke="#111" stroke-width="1.1" />
<line x1="149.75" y1="350.60" x2="149.75" y2="356.40" stroke="#111" stroke-width="1.1" />
<line x1="149.75" y1="522.90" x2="149.75" y2="525.80" stroke="#111" stroke-width="1.1" />
<line x1="171.00" y1="176.50" x2="171.00" y2="186.50" stroke="#111" stroke-width="1.1" />
<line x1="171.00" y1="348.50" x2="171.00" y2="358.50" stroke="#111" stroke-width="1.1" />
<line x1="171.00" y1="520.80" x2="171.00" y2="525.80" stroke="#111" stroke-width="1.1" />
<line x1="192.25" y1="178.60" x2="192.25" y2="184.40" stroke="#111" stroke-width="1.1" />
<line x1="192.25" y1="350.60" x2="192.25" y2="356.40" stroke="#111" stroke-width="1.1" />
<line x1="192.25" y1="522.90" x2="192.25" y2="525.80" stroke="#111" stroke-width="1.1" />
<line x1="213.50" y1="176.50" x2="213.50" y2="186.50" stroke="#111" stroke-width="1.1" />
<line x1="213.50" y1="348.50" x2="213.50" y2="358.50" stroke="#111" stroke-width="1.1" />
<line x1="213.50" y1="520.80" x2="213.50" y2="525.80" stroke="#111" stroke-width="1.1" />
<line x1="234.75" y1="178.60" x2="234.75" y2="184.40" stroke="#111" stroke-width="1.1" />
<line x1="234.75" y1="350.60" x2="234.75" y2="356.40" stroke="#111" stroke-width="1.1" />
<line x1="234.75" y1="522.90" x2="234.75" y2="525.80" stroke="#111" stroke-width="1.1" />
<line x1="256.00" y1="176.50" x2="256.00" y2="186.50" stroke="#111" stroke-width="1.1" />
<line x1="256.00" y1="348.50" x2="256.00" y2="358.50" stroke="#111" stroke-width="1.1" />
<line x1="256.00" y1="520.80" x2="256.00" y2="525.80" stroke="#111" stroke-width="1.1" />
<line x1="277.25" y1="178.60" x2="277.25" y2="184.40" stroke="#111" stroke-width="1.1" />
<line x1="277.25" y1="350.60" x2="277.25" y2="356.40" stroke="#111" stroke-width="1.1" />
<line x1="277.25" y1="522.90" x2="277.25" y2="525.80" stroke="#111" stroke-width="1.1" />
<line x1="298.50" y1="176.50" x2="298.50" y2="186.50" stroke="#111" stroke-width="1.1" />
<line x1="298.50" y1="348.50" x2="298.50" y2="358.50" stroke="#111" stroke-width="1.1" />
<line x1="298.50" y1="520.80" x2="298.50" y2="525.80" stroke="#111" stroke-width="1.1" />
<line x1="319.75" y1="178.60" x2="319.75" y2="184.40" stroke="#111" stroke-width="1.1" />
<line x1="319.75" y1="350.60" x2="319.75" y2="356.40" stroke="#111" stroke-width="1.1" />
<line x1="319.75" y1="522.90" x2="319.75" y2="525.80" stroke="#111" stroke-width="1.1" />
<line x1="43.50" y1="20.17" x2="48.00" y2="20.17" stroke="#111" stroke-width="1.1" />
<line x1="43.50" y1="36.09" x2="48.00" y2="36.09" stroke="#111" stroke-width="1.1" />
<line x1="43.50" y1="52.01" x2="48.00" y2="52.01" stroke="#111" stroke-width="1.1" />
<line x1="43.50" y1="67.93" x2="48.00" y2="67.93" stroke="#111" stroke-width="1.1" />
<line x1="43.50" y1="83.85" x2="48.00" y2="83.85" stroke="#111" stroke-width="1.1" />
<line x1="43.50" y1="113.70" x2="48.00" y2="113.70" stroke="#111" stroke-width="1.1" />
<line x1="43.50" y1="147.51" x2="48.00" y2="147.51" stroke="#111" stroke-width="1.1" />
<line x1="43.50" y1="336.07" x2="46.00" y2="336.07" stroke="#111" stroke-width="1.1" />
<line x1="341.00" y1="336.07" x2="338.50" y2="336.07" stroke="#111" stroke-width="1.1" />
<line x1="43.50" y1="318.69" x2="48.00" y2="318.69" stroke="#111" stroke-width="1.1" />
<line x1="341.00" y1="318.69" x2="336.50" y2="318.69" stroke="#111" stroke-width="1.1" />
<line x1="43.50" y1="301.31" x2="46.00" y2="301.31" stroke="#111" stroke-width="1.1" />
<line x1="341.00" y1="301.31" x2="338.50" y2="301.31" stroke="#111" stroke-width="1.1" />
<line x1="43.50" y1="283.93" x2="48.00" y2="283.93" stroke="#111" stroke-width="1.1" />
<line x1="341.00" y1="283.93" x2="336.50" y2="283.93" stroke="#111" stroke-width="1.1" />
<line x1="43.50" y1="266.55" x2="46.00" y2="266.55" stroke="#111" stroke-width="1.1" />
<line x1="341.00" y1="266.55" x2="338.50" y2="266.55" stroke="#111" stroke-width="1.1" />
<line x1="43.50" y1="249.17" x2="48.00" y2="249.17" stroke="#111" stroke-width="1.1" />
<line x1="341.00" y1="249.17" x2="336.50" y2="249.17" stroke="#111" stroke-width="1.1" />
<line x1="43.50" y1="231.79" x2="46.00" y2="231.79" stroke="#111" stroke-width="1.1" />
<line x1="341.00" y1="231.79" x2="338.50" y2="231.79" stroke="#111" stroke-width="1.1" />
<line x1="43.50" y1="214.41" x2="48.00" y2="214.41" stroke="#111" stroke-width="1.1" />
<line x1="341.00" y1="214.41" x2="336.50" y2="214.41" stroke="#111" stroke-width="1.1" />
<line x1="43.50" y1="197.03" x2="46.00" y2="197.03" stroke="#111" stroke-width="1.1" />
<line x1="341.00" y1="197.03" x2="338.50" y2="197.03" stroke="#111" stroke-width="1.1" />
<line x1="43.50" y1="515.58" x2="46.00" y2="515.58" stroke="#111" stroke-width="1.0" />
<line x1="341.00" y1="515.58" x2="338.50" y2="515.58" stroke="#111" stroke-width="1.0" />
<line x1="43.50" y1="508.20" x2="46.00" y2="508.20" stroke="#111" stroke-width="1.0" />
<line x1="341.00" y1="508.20" x2="338.50" y2="508.20" stroke="#111" stroke-width="1.0" />
<line x1="43.50" y1="502.97" x2="46.00" y2="502.97" stroke="#111" stroke-width="1.0" />
<line x1="341.00" y1="502.97" x2="338.50" y2="502.97" stroke="#111" stroke-width="1.0" />
<line x1="43.50" y1="498.91" x2="46.00" y2="498.91" stroke="#111" stroke-width="1.0" />
<line x1="341.00" y1="498.91" x2="338.50" y2="498.91" stroke="#111" stroke-width="1.0" />
<line x1="43.50" y1="495.60" x2="46.00" y2="495.60" stroke="#111" stroke-width="1.0" />
<line x1="341.00" y1="495.60" x2="338.50" y2="495.60" stroke="#111" stroke-width="1.0" />
<line x1="43.50" y1="492.80" x2="46.00" y2="492.80" stroke="#111" stroke-width="1.0" />
<line x1="341.00" y1="492.80" x2="338.50" y2="492.80" stroke="#111" stroke-width="1.0" />
<line x1="43.50" y1="490.37" x2="46.00" y2="490.37" stroke="#111" stroke-width="1.0" />
<line x1="341.00" y1="490.37" x2="338.50" y2="490.37" stroke="#111" stroke-width="1.0" />
<line x1="43.50" y1="488.23" x2="46.00" y2="488.23" stroke="#111" stroke-width="1.0" />
<line x1="341.00" y1="488.23" x2="338.50" y2="488.23" stroke="#111" stroke-width="1.0" />
<line x1="43.50" y1="486.31" x2="48.00" y2="486.31" stroke="#111" stroke-width="1.0" />
<line x1="341.00" y1="486.31" x2="336.50" y2="486.31" stroke="#111" stroke-width="1.0" />
<line x1="43.50" y1="473.71" x2="46.00" y2="473.71" stroke="#111" stroke-width="1.0" />
<line x1="341.00" y1="473.71" x2="338.50" y2="473.71" stroke="#111" stroke-width="1.0" />
<line x1="43.50" y1="466.33" x2="46.00" y2="466.33" stroke="#111" stroke-width="1.0" />
<line x1="341.00" y1="466.33" x2="338.50" y2="466.33" stroke="#111" stroke-width="1.0" />
<line x1="43.50" y1="461.10" x2="46.00" y2="461.10" stroke="#111" stroke-width="1.0" />
<line x1="341.00" y1="461.10" x2="338.50" y2="461.10" stroke="#111" stroke-width="1.0" />
<line x1="43.50" y1="457.04" x2="46.00" y2="457.04" stroke="#111" stroke-width="1.0" />
<line x1="341.00" y1="457.04" x2="338.50" y2="457.04" stroke="#111" stroke-width="1.0" />
<line x1="43.50" y1="453.73" x2="46.00" y2="453.73" stroke="#111" stroke-width="1.0" />
<line x1="341.00" y1="453.73" x2="338.50" y2="453.73" stroke="#111" stroke-width="1.0" />
<line x1="43.50" y1="450.93" x2="46.00" y2="450.93" stroke="#111" stroke-width="1.0" />
<line x1="341.00" y1="450.93" x2="338.50" y2="450.93" stroke="#111" stroke-width="1.0" />
<line x1="43.50" y1="448.50" x2="46.00" y2="448.50" stroke="#111" stroke-width="1.0" />
<line x1="341.00" y1="448.50" x2="338.50" y2="448.50" stroke="#111" stroke-width="1.0" />
<line x1="43.50" y1="446.36" x2="46.00" y2="446.36" stroke="#111" stroke-width="1.0" />
<line x1="341.00" y1="446.36" x2="338.50" y2="446.36" stroke="#111" stroke-width="1.0" />
<line x1="43.50" y1="444.44" x2="48.00" y2="444.44" stroke="#111" stroke-width="1.0" />
<line x1="341.00" y1="444.44" x2="336.50" y2="444.44" stroke="#111" stroke-width="1.0" />
<line x1="43.50" y1="431.84" x2="46.00" y2="431.84" stroke="#111" stroke-width="1.0" />
<line x1="341.00" y1="431.84" x2="338.50" y2="431.84" stroke="#111" stroke-width="1.0" />
<line x1="43.50" y1="424.46" x2="46.00" y2="424.46" stroke="#111" stroke-width="1.0" />
<line x1="341.00" y1="424.46" x2="338.50" y2="424.46" stroke="#111" stroke-width="1.0" />
<line x1="43.50" y1="419.23" x2="46.00" y2="419.23" stroke="#111" stroke-width="1.0" />
<line x1="341.00" y1="419.23" x2="338.50" y2="419.23" stroke="#111" stroke-width="1.0" />
<line x1="43.50" y1="415.17" x2="46.00" y2="415.17" stroke="#111" stroke-width="1.0" />
<line x1="341.00" y1="415.17" x2="338.50" y2="415.17" stroke="#111" stroke-width="1.0" />
<line x1="43.50" y1="411.86" x2="46.00" y2="411.86" stroke="#111" stroke-width="1.0" />
<line x1="341.00" y1="411.86" x2="338.50" y2="411.86" stroke="#111" stroke-width="1.0" />
<line x1="43.50" y1="409.06" x2="46.00" y2="409.06" stroke="#111" stroke-width="1.0" />
<line x1="341.00" y1="409.06" x2="338.50" y2="409.06" stroke="#111" stroke-width="1.0" />
<line x1="43.50" y1="406.63" x2="46.00" y2="406.63" stroke="#111" stroke-width="1.0" />
<line x1="341.00" y1="406.63" x2="338.50" y2="406.63" stroke="#111" stroke-width="1.0" />
<line x1="43.50" y1="404.49" x2="46.00" y2="404.49" stroke="#111" stroke-width="1.0" />
<line x1="341.00" y1="404.49" x2="338.50" y2="404.49" stroke="#111" stroke-width="1.0" />
<line x1="43.50" y1="402.57" x2="48.00" y2="402.57" stroke="#111" stroke-width="1.0" />
<line x1="341.00" y1="402.57" x2="336.50" y2="402.57" stroke="#111" stroke-width="1.0" />
<line x1="43.50" y1="389.97" x2="46.00" y2="389.97" stroke="#111" stroke-width="1.0" />
<line x1="341.00" y1="389.97" x2="338.50" y2="389.97" stroke="#111" stroke-width="1.0" />
<line x1="43.50" y1="382.59" x2="46.00" y2="382.59" stroke="#111" stroke-width="1.0" />
<line x1="341.00" y1="382.59" x2="338.50" y2="382.59" stroke="#111" stroke-width="1.0" />
<line x1="43.50" y1="377.36" x2="46.00" y2="377.36" stroke="#111" stroke-width="1.0" />
<line x1="341.00" y1="377.36" x2="338.50" y2="377.36" stroke="#111" stroke-width="1.0" />
<line x1="43.50" y1="373.30" x2="46.00" y2="373.30" stroke="#111" stroke-width="1.0" />
<line x1="341.00" y1="373.30" x2="338.50" y2="373.30" stroke="#111" stroke-width="1.0" />
<line x1="43.50" y1="369.99" x2="46.00" y2="369.99" stroke="#111" stroke-width="1.0" />
<line x1="341.00" y1="369.99" x2="338.50" y2="369.99" stroke="#111" stroke-width="1.0" />
<line x1="43.50" y1="367.19" x2="46.00" y2="367.19" stroke="#111" stroke-width="1.0" />
<line x1="341.00" y1="367.19" x2="338.50" y2="367.19" stroke="#111" stroke-width="1.0" />
<line x1="43.50" y1="364.76" x2="46.00" y2="364.76" stroke="#111" stroke-width="1.0" />
<line x1="341.00" y1="364.76" x2="338.50" y2="364.76" stroke="#111" stroke-width="1.0" />
<line x1="43.50" y1="362.62" x2="46.00" y2="362.62" stroke="#111" stroke-width="1.0" />
<line x1="341.00" y1="362.62" x2="338.50" y2="362.62" stroke="#111" stroke-width="1.0" />
<line x1="43.50" y1="360.70" x2="48.00" y2="360.70" stroke="#111" stroke-width="1.0" />
<line x1="341.00" y1="360.70" x2="336.50" y2="360.70" stroke="#111" stroke-width="1.0" />
<line x1="43.50" y1="5.20" x2="341.00" y2="5.20" stroke="#111" stroke-width="1.5" />
<line x1="42.80" y1="181.50" x2="341.70" y2="181.50" stroke="#111" stroke-width="1.5" />
<line x1="42.80" y1="353.50" x2="341.70" y2="353.50" stroke="#111" stroke-width="1.5" />
<line x1="42.80" y1="525.80" x2="341.70" y2="525.80" stroke="#111" stroke-width="1.5" />
<line x1="43.50" y1="4.50" x2="43.50" y2="91.00" stroke="#111" stroke-width="1.5" />
<line x1="43.50" y1="95.00" x2="43.50" y2="526.50" stroke="#111" stroke-width="1.5" />
<line x1="39.50" y1="93.30" x2="47.50" y2="89.90" stroke="#111" stroke-width="1.3" />
<line x1="39.50" y1="96.50" x2="47.50" y2="93.10" stroke="#111" stroke-width="1.3" />
<line x1="341.00" y1="4.50" x2="341.00" y2="91.00" stroke="#111" stroke-width="1.5" />
<line x1="341.00" y1="95.00" x2="341.00" y2="526.50" stroke="#111" stroke-width="1.5" />
<line x1="337.00" y1="93.30" x2="345.00" y2="89.90" stroke="#111" stroke-width="1.3" />
<line x1="337.00" y1="96.50" x2="345.00" y2="93.10" stroke="#111" stroke-width="1.3" />
<rect x="180.7" y="6.5" width="160.3" height="46.8" fill="#fff" stroke="#222" stroke-width="1.0"/>
<line x1="182.20" y1="6.50" x2="182.20" y2="8.50" stroke="#333" stroke-width="0.7" />
<line x1="182.20" y1="53.30" x2="182.20" y2="51.30" stroke="#333" stroke-width="0.7" />
<line x1="194.40" y1="6.50" x2="194.40" y2="8.50" stroke="#333" stroke-width="0.7" />
<line x1="194.40" y1="53.30" x2="194.40" y2="51.30" stroke="#333" stroke-width="0.7" />
<line x1="206.60" y1="6.50" x2="206.60" y2="8.50" stroke="#333" stroke-width="0.7" />
<line x1="206.60" y1="53.30" x2="206.60" y2="51.30" stroke="#333" stroke-width="0.7" />
<line x1="218.80" y1="6.50" x2="218.80" y2="8.50" stroke="#333" stroke-width="0.7" />
<line x1="218.80" y1="53.30" x2="218.80" y2="51.30" stroke="#333" stroke-width="0.7" />
<line x1="231.00" y1="6.50" x2="231.00" y2="8.50" stroke="#333" stroke-width="0.7" />
<line x1="231.00" y1="53.30" x2="231.00" y2="51.30" stroke="#333" stroke-width="0.7" />
<line x1="243.20" y1="6.50" x2="243.20" y2="8.50" stroke="#333" stroke-width="0.7" />
<line x1="243.20" y1="53.30" x2="243.20" y2="51.30" stroke="#333" stroke-width="0.7" />
<line x1="255.40" y1="6.50" x2="255.40" y2="8.50" stroke="#333" stroke-width="0.7" />
<line x1="255.40" y1="53.30" x2="255.40" y2="51.30" stroke="#333" stroke-width="0.7" />
<line x1="267.60" y1="6.50" x2="267.60" y2="8.50" stroke="#333" stroke-width="0.7" />
<line x1="267.60" y1="53.30" x2="267.60" y2="51.30" stroke="#333" stroke-width="0.7" />
<line x1="279.80" y1="6.50" x2="279.80" y2="8.50" stroke="#333" stroke-width="0.7" />
<line x1="279.80" y1="53.30" x2="279.80" y2="51.30" stroke="#333" stroke-width="0.7" />
<line x1="292.00" y1="6.50" x2="292.00" y2="8.50" stroke="#333" stroke-width="0.7" />
<line x1="292.00" y1="53.30" x2="292.00" y2="51.30" stroke="#333" stroke-width="0.7" />
<line x1="304.20" y1="6.50" x2="304.20" y2="8.50" stroke="#333" stroke-width="0.7" />
<line x1="304.20" y1="53.30" x2="304.20" y2="51.30" stroke="#333" stroke-width="0.7" />
<line x1="316.40" y1="6.50" x2="316.40" y2="8.50" stroke="#333" stroke-width="0.7" />
<line x1="316.40" y1="53.30" x2="316.40" y2="51.30" stroke="#333" stroke-width="0.7" />
<line x1="328.60" y1="6.50" x2="328.60" y2="8.50" stroke="#333" stroke-width="0.7" />
<line x1="328.60" y1="53.30" x2="328.60" y2="51.30" stroke="#333" stroke-width="0.7" />
<line x1="340.80" y1="6.50" x2="340.80" y2="8.50" stroke="#333" stroke-width="0.7" />
<line x1="340.80" y1="53.30" x2="340.80" y2="51.30" stroke="#333" stroke-width="0.7" />
<line x1="180.70" y1="52.84" x2="181.90" y2="52.84" stroke="#333" stroke-width="0.7" />
<line x1="341.00" y1="52.84" x2="339.80" y2="52.84" stroke="#333" stroke-width="0.7" />
<line x1="180.70" y1="47.40" x2="182.70" y2="47.40" stroke="#333" stroke-width="0.7" />
<line x1="341.00" y1="47.40" x2="339.00" y2="47.40" stroke="#333" stroke-width="0.7" />
<line x1="180.70" y1="41.96" x2="181.90" y2="41.96" stroke="#333" stroke-width="0.7" />
<line x1="341.00" y1="41.96" x2="339.80" y2="41.96" stroke="#333" stroke-width="0.7" />
<line x1="180.70" y1="36.52" x2="182.70" y2="36.52" stroke="#333" stroke-width="0.7" />
<line x1="341.00" y1="36.52" x2="339.00" y2="36.52" stroke="#333" stroke-width="0.7" />
<line x1="180.70" y1="31.08" x2="181.90" y2="31.08" stroke="#333" stroke-width="0.7" />
<line x1="341.00" y1="31.08" x2="339.80" y2="31.08" stroke="#333" stroke-width="0.7" />
<line x1="180.70" y1="25.64" x2="182.70" y2="25.64" stroke="#333" stroke-width="0.7" />
<line x1="341.00" y1="25.64" x2="339.00" y2="25.64" stroke="#333" stroke-width="0.7" />
<line x1="180.70" y1="20.20" x2="181.90" y2="20.20" stroke="#333" stroke-width="0.7" />
<line x1="341.00" y1="20.20" x2="339.80" y2="20.20" stroke="#333" stroke-width="0.7" />
<line x1="180.70" y1="14.76" x2="182.70" y2="14.76" stroke="#333" stroke-width="0.7" />
<line x1="341.00" y1="14.76" x2="339.00" y2="14.76" stroke="#333" stroke-width="0.7" />
<line x1="180.70" y1="9.32" x2="181.90" y2="9.32" stroke="#333" stroke-width="0.7" />
<line x1="341.00" y1="9.32" x2="339.80" y2="9.32" stroke="#333" stroke-width="0.7" />
<polyline points="182.20,22.10 184.64,22.13 187.08,21.29 189.52,21.60 191.96,21.25 194.40,20.63 196.84,21.03 199.28,20.33 201.72,20.08 204.16,20.34 206.60,19.47 209.04,19.59 211.48,19.52 213.92,18.71 216.36,19.08 218.80,18.62 221.24,18.09 223.68,18.47 226.12,17.71 228.56,17.56 231.00,17.74 233.44,16.87 235.88,17.07 238.32,16.89 240.76,16.15 243.20,16.54 245.64,15.98 248.08,15.55 250.52,15.90 252.96,15.09 255.40,15.05 257.84,15.14 260.28,14.28 262.72,14.55 265.16,14.27 267.60,13.59 270.04,14.00 272.48,13.35 274.92,13.03 277.36,13.33 279.80,12.47 282.24,12.53 284.68,12.53 287.12,11.70 289.56,12.03 292.00,11.64 294.44,11.05 296.88,11.45 299.32,10.73 301.76,10.51 304.20,10.74 306.64,9.87 309.08,10.02 311.52,9.91 313.96,9.12 316.40,9.50 318.84,9.01 321.28,8.51 323.72,8.88 326.16,8.10 328.60,7.99 331.04,8.14 333.48,7.27 335.92,7.50 338.36,7.29 340.80,6.56" fill="none" stroke="#ec0c16" stroke-width="1.5" stroke-linejoin="round" />
<polyline points="182.20,52.50 184.64,52.50 187.08,52.50 189.52,52.30 191.96,52.50 194.40,52.45 196.84,51.82 199.28,51.67 201.72,51.93 204.16,51.62 206.60,51.03 209.04,51.09 211.48,51.26 213.92,50.75 216.36,50.31 218.80,50.53 221.24,50.50 223.68,49.88 226.12,49.66 228.56,49.93 231.00,49.68 233.44,49.07 235.88,49.07 238.32,49.28 240.76,48.82 243.20,48.33 245.64,48.51 248.08,48.55 250.52,47.95 252.96,47.66 255.40,47.93 257.84,47.74 260.28,47.12 262.72,47.06 265.16,47.29 267.60,46.89 270.04,46.35 272.48,46.49 274.92,46.58 277.36,46.01 279.80,45.66 282.24,45.92 284.68,45.80 287.12,45.17 289.56,45.04 292.00,45.30 294.44,44.95 296.88,44.38 299.32,44.47 301.76,44.62 304.20,44.08 306.64,43.67 309.08,43.90 311.52,43.85 313.96,43.23 316.40,43.03 318.84,43.30 321.28,43.02 323.72,42.42 326.16,42.45 328.60,42.64 331.04,42.15 333.48,41.69 335.92,41.89 338.36,41.90 340.80,41.29" fill="none" stroke="#000" stroke-width="1.6" stroke-linejoin="round" />
<text x="38.60" y="8.35" font-size="11.5" text-anchor="end" >280</text>
<text x="38.60" y="24.27" font-size="11.5" text-anchor="end" >240</text>
<text x="38.60" y="40.19" font-size="11.5" text-anchor="end" >200</text>
<text x="38.60" y="56.11" font-size="11.5" text-anchor="end" >160</text>
<text x="38.60" y="72.03" font-size="11.5" text-anchor="end" >120</text>
<text x="38.60" y="87.95" font-size="11.5" text-anchor="end" >80</text>
<text x="38.60" y="117.80" font-size="11.5" text-anchor="end" >28</text>
<text x="38.60" y="151.61" font-size="11.5" text-anchor="end" >21</text>
<text x="38.60" y="185.42" font-size="11.5" text-anchor="end" >14</text>
<text x="38.60" y="218.51" font-size="11.5" text-anchor="end" >80</text>
<text x="38.60" y="253.27" font-size="11.5" text-anchor="end" >60</text>
<text x="38.60" y="288.03" font-size="11.5" text-anchor="end" >40</text>
<text x="38.60" y="322.79" font-size="11.5" text-anchor="end" >20</text>
<text x="38.60" y="357.55" font-size="11.5" text-anchor="end" >0</text>
<text x="38.60" y="364.80" font-size="11.5" text-anchor="end" >100</text>
<text x="38.60" y="406.67" font-size="11.5" text-anchor="end" >10</text>
<text x="38.60" y="448.54" font-size="11.5" text-anchor="end" >1</text>
<text x="38.60" y="490.41" font-size="11.5" text-anchor="end" >0.1</text>
<text x="43.50" y="540.90" font-size="11.5" text-anchor="middle" >0</text>
<text x="86.00" y="540.90" font-size="11.5" text-anchor="middle" >50</text>
<text x="128.50" y="540.90" font-size="11.5" text-anchor="middle" >100</text>
<text x="171.00" y="540.90" font-size="11.5" text-anchor="middle" >150</text>
<text x="213.50" y="540.90" font-size="11.5" text-anchor="middle" >200</text>
<text x="256.00" y="540.90" font-size="11.5" text-anchor="middle" >250</text>
<text x="298.50" y="540.90" font-size="11.5" text-anchor="middle" >300</text>
<text x="341.00" y="540.90" font-size="11.5" text-anchor="middle" >350</text>
<text x="181.40" y="556.00" font-size="15.8" text-anchor="middle" >Temperature (K)</text>
<text x="0.00" y="0.00" font-size="15" text-anchor="middle" transform="translate(12.9,87.3) rotate(-90)">ρ (μΩ-m)</text>
<text x="0.00" y="0.00" font-size="15" text-anchor="middle" transform="translate(14.6,260.0) rotate(-90)">S (μV/K)</text>
<text transform="translate(16.3,445.7) rotate(-90)" font-size="15.8" text-anchor="middle">n<tspan font-size="8.4" dy="4.6">H</tspan><tspan dy="-4.6"> (10</tspan><tspan font-size="8.7" dy="-9.1">18</tspan><tspan dy="9.1"> cm</tspan><tspan font-size="8.4" dy="-9.1">-3</tspan><tspan dy="9.1">)</tspan></text>
<text x="338.20" y="169.00" font-size="19.5" text-anchor="end" >(a)</text>
<text x="339.20" y="345.10" font-size="19.5" text-anchor="end" >(b)</text>
<text x="334.40" y="513.50" font-size="19.5" text-anchor="end" >(c)</text>
<rect x="63.90" y="198.90" width="4.6" height="4.6" fill="#fff" stroke="#222" stroke-width="0.9"/>
<text x="79.60" y="205.40" font-size="11.5" text-anchor="start" >x = 0.0</text>
<rect x="63.4" y="213.10" width="5.6" height="5.6" fill="#ec0c16"/>
<text x="79.60" y="220.10" font-size="11.5" text-anchor="start" >x = 0.2</text>
<rect x="63.4" y="228.00" width="5.6" height="5.6" fill="#5cbf3a"/>
<text x="79.60" y="235.00" font-size="11.5" text-anchor="start" >x = 0.6</text>
<rect x="63.4" y="241.80" width="5.6" height="5.6" fill="#2a4aa8"/>
<text x="79.60" y="248.80" font-size="11.5" text-anchor="start" >x = 1.0</text>
<text x="178.80" y="16.96" font-size="6.3" text-anchor="end" >28</text>
<text x="178.80" y="27.84" font-size="6.3" text-anchor="end" >24</text>
<text x="178.80" y="38.72" font-size="6.3" text-anchor="end" >20</text>
<text x="178.80" y="49.60" font-size="6.3" text-anchor="end" >16</text>
<text x="182.20" y="60.20" font-size="6.5" text-anchor="middle" >0</text>
<text x="206.60" y="60.20" font-size="6.5" text-anchor="middle" >2</text>
<text x="231.00" y="60.20" font-size="6.5" text-anchor="middle" >4</text>
<text x="255.40" y="60.20" font-size="6.5" text-anchor="middle" >6</text>
<text x="279.80" y="60.20" font-size="6.5" text-anchor="middle" >8</text>
<text x="304.20" y="60.20" font-size="6.5" text-anchor="middle" >10</text>
<text x="328.60" y="60.20" font-size="6.5" text-anchor="middle" >12</text>
<text x="0.00" y="0.00" font-size="7.4" text-anchor="middle" transform="translate(166.6,25.7) rotate(-90)">ρ (μΩ-m)</text>
<text x="232.6" y="70.6" font-size="9.2">T</text>
<text x="243.0" y="65.4" font-size="5.6">1.66</text>
<text x="255.4" y="70.6" font-size="9.2">(K</text>
<text x="269.4" y="65.4" font-size="5.6">1.66</text>
<text x="280.4" y="70.6" font-size="9.2">)</text>
</svg>
</body></html>
